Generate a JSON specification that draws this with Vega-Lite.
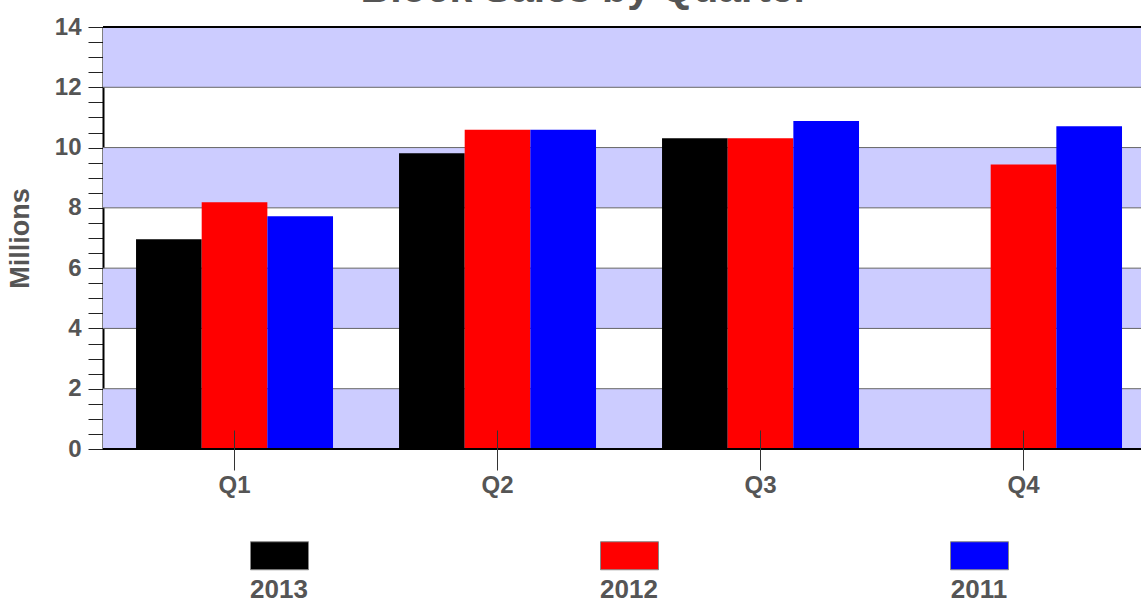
{
  "$schema": "https://vega.github.io/schema/vega-lite/v6.json",
  "autosize": "none",
  "width": 1038,
  "height": 422,
  "padding": {"left": 103, "top": 27, "right": 0, "bottom": 152},
  "background": "white",
  "title": {
    "text": "Block Sales by Quarter",
    "font": "Liberation Sans",
    "fontSize": 41,
    "fontWeight": "bold",
    "color": "#555555",
    "anchor": "middle",
    "frame": "group",
    "dx": -37,
    "baseline": "alphabetic",
    "offset": -28
  },
  "config": {
    "view": {"stroke": null},
    "axis": {"labelFont": "Liberation Sans", "titleFont": "Liberation Sans"},
    "axisY": {
      "tickSize": 15,
      "tickColor": "#222222",
      "grid": false,
      "domain": true,
      "domainColor": "#000000",
      "domainWidth": 2,
      "labelPadding": 7,
      "labelFontSize": 24,
      "labelFontWeight": "bold",
      "labelColor": "#555555",
      "titleFontSize": 27,
      "titleFontWeight": "bold",
      "titleColor": "#555555",
      "titlePadding": 20,
      "format": "~g",
      "zindex": 1
    }
  },
  "datasets": {
    "sales": [
      {"quarter": "Q1", "year": "2013", "value": 6.96},
      {"quarter": "Q1", "year": "2012", "value": 8.19},
      {"quarter": "Q1", "year": "2011", "value": 7.72},
      {"quarter": "Q2", "year": "2013", "value": 9.81},
      {"quarter": "Q2", "year": "2012", "value": 10.59},
      {"quarter": "Q2", "year": "2011", "value": 10.59},
      {"quarter": "Q3", "year": "2013", "value": 10.31},
      {"quarter": "Q3", "year": "2012", "value": 10.31},
      {"quarter": "Q3", "year": "2011", "value": 10.88},
      {"quarter": "Q4", "year": "2012", "value": 9.44},
      {"quarter": "Q4", "year": "2011", "value": 10.71}
    ],
    "bands": [
      {"lo": 0, "hi": 2},
      {"lo": 4, "hi": 6},
      {"lo": 8, "hi": 10},
      {"lo": 12, "hi": 14}
    ],
    "grid": [{"v": 2}, {"v": 4}, {"v": 6}, {"v": 8}, {"v": 10}, {"v": 12}],
    "border": [{"v": 0}, {"v": 14}]
  },
  "layer": [
    {
      "data": {"name": "bands"},
      "mark": {"type": "rect", "fill": "#ccccff"},
      "encoding": {
        "y": {
          "field": "lo",
          "type": "quantitative",
          "title": "Millions",
          "scale": {"domain": [0, 14], "nice": false},
          "axis": {
            "values": [0, 0.5, 1, 1.5, 2, 2.5, 3, 3.5, 4, 4.5, 5, 5.5, 6, 6.5, 7, 7.5, 8, 8.5, 9, 9.5, 10, 10.5, 11, 11.5, 12, 12.5, 13, 13.5, 14],
            "labelExpr": "datum.value % 2 === 0 ? datum.label : ''"
          }
        },
        "y2": {"field": "hi"}
      }
    },
    {
      "data": {"name": "grid"},
      "mark": {"type": "rule", "color": "#666666", "strokeWidth": 1},
      "encoding": {
        "y": {
          "field": "v",
          "type": "quantitative",
          "title": "Millions",
          "axis": {
            "values": [0, 0.5, 1, 1.5, 2, 2.5, 3, 3.5, 4, 4.5, 5, 5.5, 6, 6.5, 7, 7.5, 8, 8.5, 9, 9.5, 10, 10.5, 11, 11.5, 12, 12.5, 13, 13.5, 14],
            "labelExpr": "datum.value % 2 === 0 ? datum.label : ''"
          }
        }
      }
    },
    {
      "data": {"name": "sales"},
      "mark": {"type": "bar"},
      "encoding": {
        "x": {
          "field": "quarter",
          "type": "nominal",
          "scale": {"paddingInner": 0.251, "paddingOuter": 0.0989, "align": 0.635},
          "axis": {
            "title": null,
            "domain": false,
            "offset": -19,
            "tickSize": 40,
            "tickColor": "#333333",
            "tickWidth": 1,
            "labelAngle": 0,
            "labelPadding": 3,
            "labelFontSize": 24,
            "labelFontWeight": "bold",
            "labelColor": "#555555",
            "zindex": 2
          }
        },
        "xOffset": {"field": "year", "type": "nominal", "sort": ["2013", "2012", "2011"], "scale": {"paddingInner": 0, "paddingOuter": 0}},
        "y": {
          "field": "value",
          "type": "quantitative",
          "title": "Millions",
          "axis": {
            "values": [0, 0.5, 1, 1.5, 2, 2.5, 3, 3.5, 4, 4.5, 5, 5.5, 6, 6.5, 7, 7.5, 8, 8.5, 9, 9.5, 10, 10.5, 11, 11.5, 12, 12.5, 13, 13.5, 14],
            "labelExpr": "datum.value % 2 === 0 ? datum.label : ''"
          }
        },
        "color": {
          "field": "year",
          "type": "nominal",
          "scale": {"domain": ["2013", "2012", "2011"], "range": ["#000000", "#ff0000", "#0000ff"]},
          "legend": {
            "title": null,
            "orient": "none",
            "legendX": 147,
            "legendY": 499,
            "direction": "horizontal",
            "columns": 3,
            "columnPadding": 287,
            "padding": 0,
            "symbolType": "M-1,-0.483H1V0.483H-1Z",
            "symbolSize": 3364,
            "symbolStrokeColor": "#888888",
            "symbolStrokeWidth": 1,
            "labelOffset": -30,
            "labelAlign": "center",
            "labelBaseline": "middle",
            "labelFont": "Liberation Sans",
            "labelFontSize": 26,
            "labelFontWeight": "bold",
            "labelColor": "#555555",
            "encode": {"labels": {"update": {"dy": {"value": 34}}}}
          }
        }
      }
    },
    {
      "data": {"name": "border"},
      "mark": {"type": "rule", "color": "#000000", "strokeWidth": 2},
      "encoding": {
        "y": {
          "field": "v",
          "type": "quantitative",
          "title": "Millions",
          "axis": {
            "values": [0, 0.5, 1, 1.5, 2, 2.5, 3, 3.5, 4, 4.5, 5, 5.5, 6, 6.5, 7, 7.5, 8, 8.5, 9, 9.5, 10, 10.5, 11, 11.5, 12, 12.5, 13, 13.5, 14],
            "labelExpr": "datum.value % 2 === 0 ? datum.label : ''"
          }
        }
      }
    }
  ]
}
